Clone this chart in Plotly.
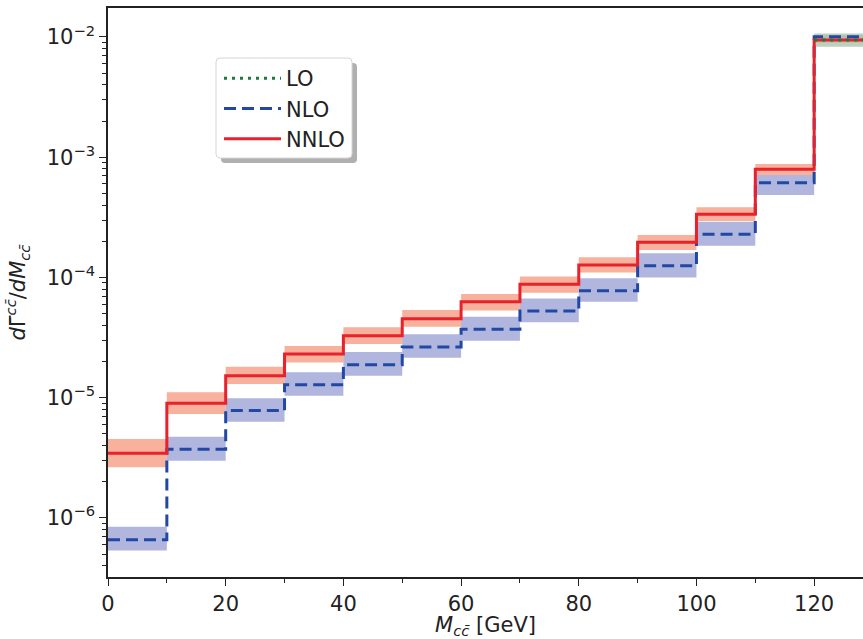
import plotly.graph_objects as go

# bin edges (GeV)
bin_edges = [0, 10, 20, 30, 40, 50, 60, 70, 80, 90, 100, 110, 120, 130]

# NNLO central and scale band
nnlo = [3.45e-6, 8.99e-6, 1.52e-5, 2.31e-5, 3.28e-5, 4.54e-5, 6.29e-5, 8.77e-5,
        1.27e-4, 1.96e-4, 3.36e-4, 7.94e-4, 9.44e-3]
nnlo_hi = [4.54e-6, 1.11e-5, 1.81e-5, 2.69e-5, 3.85e-5, 5.37e-5, 7.29e-5, 1.02e-4,
           1.47e-4, 2.26e-4, 3.84e-4, 8.79e-4, 1.02e-2]
nnlo_lo = [2.64e-6, 7.33e-6, 1.30e-5, 1.96e-5, 2.80e-5, 3.90e-5, 5.30e-5, 7.48e-5,
           1.10e-4, 1.69e-4, 2.95e-4, 7.12e-4, 8.9e-3]

# NLO central and scale band
nlo = [6.60e-7, 3.73e-6, 7.83e-6, 1.28e-5, 1.88e-5, 2.64e-5, 3.71e-5, 5.26e-5,
       7.77e-5, 1.25e-4, 2.29e-4, 6.14e-4, 1.006e-2]
nlo_hi = [8.47e-7, 4.74e-6, 9.89e-6, 1.63e-5, 2.40e-5, 3.37e-5, 4.72e-5, 6.67e-5,
          9.85e-5, 1.59e-4, 2.91e-4, 7.12e-4, 1.04e-2]
nlo_lo = [5.35e-7, 2.99e-6, 6.32e-6, 1.04e-5, 1.52e-5, 2.15e-5, 2.98e-5, 4.24e-5,
          6.29e-5, 1.00e-4, 1.84e-4, 4.85e-4, 9.6e-3]

# LO: only the last bin (two-body decay)
lo_edges = [120, 130]
lo = [9.44e-3]
lo_hi = [1.07e-2]
lo_lo = [8.30e-3]

RED = "#e8212b"
BLUE = "#2149a3"
GREEN = "#1b7a40"


def band_trace(edges, lo_vals, hi_vals, color, name):
    xs, ys = [], []
    for i in range(len(lo_vals)):
        x0, x1 = edges[i], edges[i + 1]
        xs += [x0, x1, x1, x0, x0, None]
        ys += [lo_vals[i], lo_vals[i], hi_vals[i], hi_vals[i], lo_vals[i], None]
    return go.Scatter(x=xs, y=ys, mode="lines", fill="toself", fillcolor=color,
                      line=dict(width=0), hoverinfo="skip", showlegend=False, name=name)


def step_trace(edges, vals, color, dash, name, rank, width=3):
    return go.Scatter(x=edges, y=list(vals) + [vals[-1]], mode="lines",
                      line=dict(color=color, width=width, dash=dash, shape="hv"),
                      name=name, legendrank=rank)


fig = go.Figure()
fig.add_trace(band_trace(bin_edges, nlo_lo, nlo_hi, "rgba(90,100,185,0.47)", "NLO band"))
fig.add_trace(band_trace(bin_edges, nnlo_lo, nnlo_hi, "rgba(240,100,60,0.5)", "NNLO band"))
fig.add_trace(band_trace(lo_edges, lo_lo, lo_hi, "rgba(178,200,178,0.85)", "LO band"))
fig.add_trace(step_trace(bin_edges, nlo, BLUE, "12px,6px", "NLO", 2))
fig.add_trace(step_trace(bin_edges, nnlo, RED, "solid", "NNLO", 3))
fig.add_trace(step_trace(lo_edges, lo, GREEN, "3px,5px", "LO", 1))

FONT = "DejaVu Sans"
W, H = 863, 639
L, R, T, B = 108, 0, 8, 62
pw, ph = W - L - R, H - T - B


def px(x):
    return (x - L) / pw


def py(y):
    return 1 - (y - T) / ph


def rounded_rect(x0, y0, x1, y1, r):
    # pixel coords (figure) -> paper path with rounded corners
    rx, ry = r / pw, r / ph
    X0, X1, Y0, Y1 = px(x0), px(x1), py(y1), py(y0)
    return (f"M{X0 + rx},{Y0} L{X1 - rx},{Y0} Q{X1},{Y0} {X1},{Y0 + ry} "
            f"L{X1},{Y1 - ry} Q{X1},{Y1} {X1 - rx},{Y1} L{X0 + rx},{Y1} "
            f"Q{X0},{Y1} {X0},{Y1 - ry} L{X0},{Y0 + ry} Q{X0},{Y0} {X0 + rx},{Y0} Z")


# legend box in pixels
bx0, by0, bx1, by1 = 216, 58, 352, 158

fig.update_layout(
    width=W, height=H,
    margin=dict(l=L, r=R, t=T, b=B, pad=0),
    paper_bgcolor="white", plot_bgcolor="white",
    font=dict(family=FONT, size=21, color="#222222"),
    showlegend=True,
    legend=dict(x=px(219), y=py(58), xanchor="left", yanchor="top",
                bgcolor="rgba(0,0,0,0)", borderwidth=0,
                font=dict(family=FONT, size=21, color="#222222"),
                itemwidth=57, tracegroupgap=0),
    shapes=[
        dict(type="path", xref="paper", yref="paper",
             path=rounded_rect(bx0 + 5, by0 + 5, bx1 + 5, by1 + 5, 4),
             fillcolor="#b0b0b0", line=dict(width=0), layer="above"),
        dict(type="path", xref="paper", yref="paper",
             path=rounded_rect(bx0, by0, bx1, by1, 4),
             fillcolor="white", line=dict(width=1, color="#d6d6d6"), layer="above"),
    ],
    xaxis=dict(range=[0, 128.3], showgrid=False, zeroline=False,
               showline=True, linecolor="#222222", linewidth=1.5, mirror=True,
               ticks="outside", ticklen=7, tickwidth=1.3, tickcolor="#222222",
               tickvals=[0, 20, 40, 60, 80, 100, 120],
               minor=dict(ticks="outside", ticklen=4, tickwidth=1, tickcolor="#222222",
                          tickvals=[10, 30, 50, 70, 90, 110]),
               tickfont=dict(family=FONT, size=21, color="#222222"),
               title=dict(text="<i>M</i><sub><i>cc̄</i></sub> [GeV]", standoff=8,
                          font=dict(family=FONT, size=21, color="#222222"))),
    yaxis=dict(type="log", range=[-6.491, -1.759], showgrid=False, zeroline=False,
               showline=True, linecolor="#222222", linewidth=1.5, mirror=False,
               ticks="outside", ticklen=7, tickwidth=1.3, tickcolor="#222222",
               tickvals=[1e-6, 1e-5, 1e-4, 1e-3, 1e-2],
               ticktext=["10<sup>−6</sup>", "10<sup>−5</sup>", "10<sup>−4</sup>",
                         "10<sup>−3</sup>", "10<sup>−2</sup>"],
               minor=dict(ticks="outside", ticklen=4, tickwidth=1, tickcolor="#222222",
                          dtick="D1", showgrid=False),
               tickfont=dict(family=FONT, size=21, color="#222222"),
               title=dict(text="<i>d</i>Γ̄<sup><i>cc̄</i></sup>/<i>dM</i><sub><i>cc̄</i></sub>",
                          standoff=15, font=dict(family=FONT, size=21, color="#222222"))),
)

fig.write_html(
    "out.html",
    config={"displayModeBar": False},
    post_script="document.body.style.margin='0';document.body.style.overflow='hidden';",
)
